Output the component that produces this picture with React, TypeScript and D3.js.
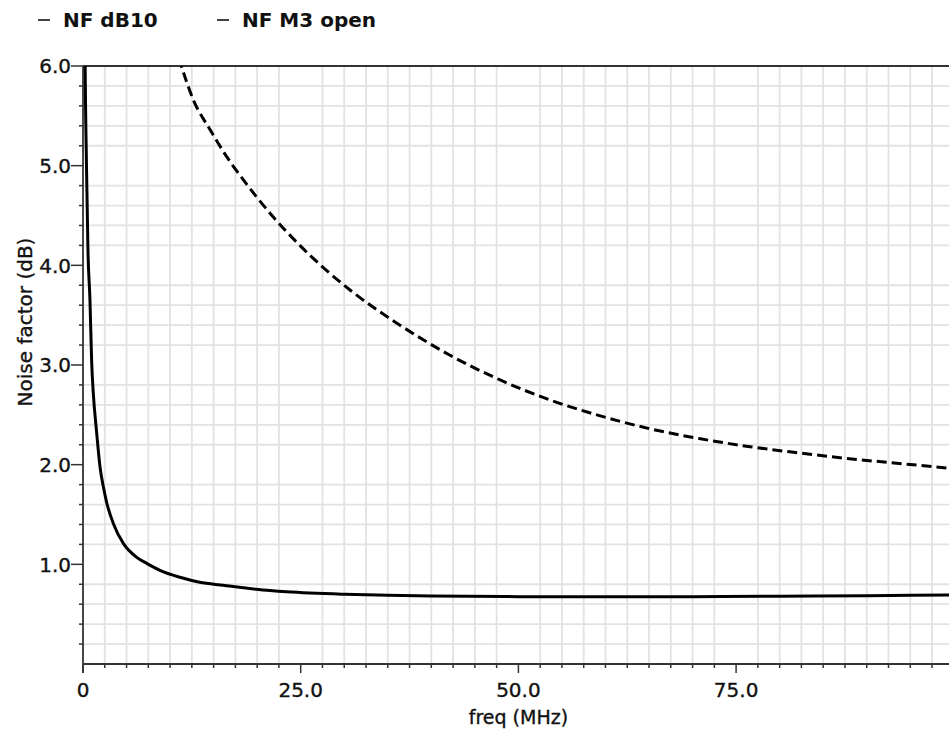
import React from 'react';
import * as d3 from 'd3';

const xMajorTicks = [0, 25, 50, 75];
const xMajorLabels = ['0', '25.0', '50.0', '75.0'];
const yMajorTicks = [1, 2, 3, 4, 5, 6];
const yMajorLabels = ['1.0', '2.0', '3.0', '4.0', '5.0', '6.0'];
const xMinorStep = 2.5;
const yMinorStep = 0.2;

const legendLabels = ['NF dB10', 'NF M3 open'];

const nfDb10Freq = [0.12, 0.23, 0.4, 0.57, 0.8, 1.0, 1.18, 1.57, 1.95, 2.33, 2.72, 3.48, 4.63, 6.17, 7.31, 8.84, 11.14, 13.4, 16.1, 19.9, 23.4, 30, 35, 40, 50, 60, 70, 80, 90, 100];
const nfDb10Val = [8.0, 6.2, 5.0, 4.15, 3.65, 3.02, 2.72, 2.32, 1.98, 1.78, 1.62, 1.41, 1.21, 1.07, 1.01, 0.94, 0.87, 0.82, 0.79, 0.75, 0.725, 0.70, 0.69, 0.683, 0.676, 0.675, 0.676, 0.68, 0.686, 0.692];

const nfM3Freq = [11.0, 12.67, 14.6, 16.5, 18.4, 19.9, 22.0, 24.9, 30.7, 36.4, 42.1, 47.9, 53.6, 59.4, 65.1, 70.9, 76.6, 82.0, 88.0, 94.0, 100];
const nfM3Val = [6.08, 5.66, 5.36, 5.09, 4.86, 4.69, 4.47, 4.20, 3.75, 3.40, 3.10, 2.85, 2.65, 2.49, 2.36, 2.26, 2.18, 2.12, 2.06, 2.01, 1.96];

const W = 949;
const H = 737;
const left = 83;
const top = 66;
const bottom = 664;
const right = 953.8;
const FONT = "'DejaVu Sans', Verdana, sans-serif";

export default function App() {
  const x = d3.scaleLinear().domain([0, 100]).range([left, right]);
  const y = d3.scaleLinear().domain([0, 6]).range([bottom, top]);

  const xMinor = d3.range(xMinorStep, 100 + 0.001, xMinorStep).filter(v => Math.abs(v % 25) > 0.01);
  const yMinor = d3.range(yMinorStep, 6 - 0.001, yMinorStep).filter(v => Math.abs(v - Math.round(v)) > 0.01);

  const line = d3.line<[number, number]>()
    .x(d => x(d[0]))
    .y(d => y(d[1]))
    .curve(d3.curveMonotoneX);

  const solid = line(nfDb10Freq.map((f, i) => [f, nfDb10Val[i]] as [number, number])) || '';
  const dashed = line(nfM3Freq.map((f, i) => [f, nfM3Val[i]] as [number, number])) || '';

  const grid = '#e2e2e2';
  const axis = '#333';
  const txt = { fontFamily: FONT, fill: '#111', stroke: '#111', strokeWidth: 0.35 } as any;

  return (
    <svg width={W} height={H} style={{ position: 'absolute', left: 0, top: 0, background: '#fff' }}>
      <defs>
        <clipPath id="plotclip">
          <rect x={left} y={top} width={right - left} height={bottom - top} />
        </clipPath>
      </defs>
      <rect x={0} y={0} width={W} height={H} fill="#fff" />
      {xMinor.map((v, i) => (
        <line key={'gx' + i} x1={x(v)} x2={x(v)} y1={top} y2={bottom} stroke={grid} strokeWidth={1.8} />
      ))}
      {yMinor.map((v, i) => (
        <line key={'gy' + i} x1={left} x2={right} y1={y(v)} y2={y(v)} stroke={grid} strokeWidth={1.8} />
      ))}
      <line x1={left} x2={right} y1={top} y2={top} stroke={axis} strokeWidth={1.8} />
      <line x1={left} x2={left} y1={top} y2={bottom + 9} stroke={axis} strokeWidth={1.8} />
      <line x1={left} x2={right} y1={bottom} y2={bottom} stroke={axis} strokeWidth={1.8} />
      {xMinor.map((v, i) => (
        <line key={'tx' + i} x1={x(v)} x2={x(v)} y1={bottom} y2={bottom + 4} stroke={axis} strokeWidth={1.5} />
      ))}
      {xMajorTicks.map((v, i) => (
        <g key={'mx' + i}>
          <line x1={x(v)} x2={x(v)} y1={bottom} y2={bottom + 9} stroke={axis} strokeWidth={1.5} />
          <text x={x(v)} y={697} textAnchor="middle" fontSize={20} {...txt}>{xMajorLabels[i]}</text>
        </g>
      ))}
      {yMinor.map((v, i) => (
        <line key={'ty' + i} x1={left - 4} x2={left} y1={y(v)} y2={y(v)} stroke={axis} strokeWidth={1.5} />
      ))}
      {yMajorTicks.map((v, i) => (
        <g key={'my' + i}>
          <line x1={left - 12} x2={left} y1={y(v)} y2={y(v)} stroke={axis} strokeWidth={1.5} />
          <text x={71} y={y(v)} dy="0.36em" textAnchor="end" fontSize={20} {...txt}>{yMajorLabels[i]}</text>
        </g>
      ))}
      <g clipPath="url(#plotclip)">
        <path d={dashed} fill="none" stroke="#000" strokeWidth={3} strokeDasharray="10 5" />
        <path d={solid} fill="none" stroke="#000" strokeWidth={3} />
      </g>
      <text x={x(50)} y={724} textAnchor="middle" fontSize={19} {...txt}>freq (MHz)</text>
      <text transform={`translate(32, 322) rotate(-90)`} textAnchor="middle" fontSize={20} {...txt}>Noise factor (dB)</text>
      {legendLabels.map((lab, i) => {
        const lx = i === 0 ? 38 : 217;
        return (
          <g key={'lg' + i}>
            <line x1={lx} x2={lx + 12} y1={20} y2={20} stroke="#111" strokeWidth={1.6} />
            <text x={lx + 25} y={27} fontSize={20} fontWeight="bold" fontFamily={FONT} fill="#111">{lab}</text>
          </g>
        );
      })}
    </svg>
  );
}
